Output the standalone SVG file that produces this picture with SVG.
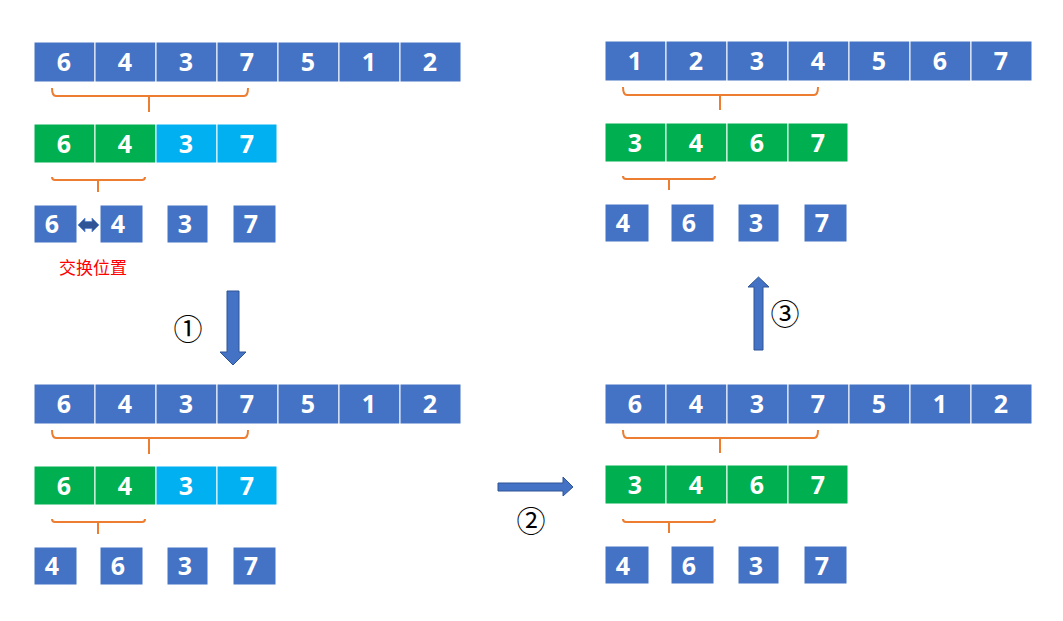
<svg xmlns="http://www.w3.org/2000/svg" width="1063" height="621" viewBox="0 0 1063 621">
<defs>
<style>
.b{fill:#4472C4;stroke:#fff;stroke-width:1}
.g{fill:#00B050;stroke:#fff;stroke-width:1}
.c{fill:#00B0F0;stroke:#fff;stroke-width:1}
.t{fill:#fff;font-family:"Open Sans","Noto Sans",sans-serif;font-weight:bold;font-size:25px;text-anchor:middle}
.br{fill:none;stroke:#ED7D31;stroke-width:2}
.ar{fill:#4472C4;stroke:#2F5597;stroke-width:1}
.cn{font-family:"Noto Sans CJK SC","DejaVu Sans",sans-serif;font-size:29px;text-anchor:middle;fill:#000}
</style>
<g id="row7">
<rect class="b" x="0" y="0" width="61" height="40"/>
<rect class="b" x="61" y="0" width="61" height="40"/>
<rect class="b" x="122" y="0" width="61" height="40"/>
<rect class="b" x="183" y="0" width="61" height="40"/>
<rect class="b" x="244" y="0" width="61" height="40"/>
<rect class="b" x="305" y="0" width="61" height="40"/>
<rect class="b" x="366" y="0" width="61" height="40"/>
</g>
</defs>

<!-- top-left -->
<g id="tl-row1">
<use href="#row7" x="34" y="42"/>
<text class="t" x="64" y="71">6</text><text class="t" x="125" y="71">4</text><text class="t" x="186" y="71">3</text><text class="t" x="247" y="71">7</text><text class="t" x="308" y="71">5</text><text class="t" x="369" y="71">1</text><text class="t" x="430" y="71">2</text>
</g>
<g id="tl-br1"><path class="br" d="M52,88 Q52,96 56,96 L244,96 Q248,96 248,88 M149,96 L149,112"/></g>
<g id="tl-row2">
<rect class="g" x="34" y="124" width="61" height="39"/><rect class="g" x="95" y="124" width="61" height="39"/>
<rect class="c" x="156" y="124" width="61" height="39"/><rect class="c" x="217" y="124" width="60" height="39"/>
<text class="t" x="64" y="153">6</text><text class="t" x="125" y="153">4</text><text class="t" x="186" y="153">3</text><text class="t" x="247" y="153">7</text>
</g>
<g id="tl-br2"><path class="br" d="M52,177 Q52,180 55,180 L142,180 Q145,180 145,177 M98,180 L98,192"/></g>
<g id="tl-row3">
<rect class="b" x="34" y="205" width="43" height="38"/><rect class="b" x="100" y="205" width="43" height="38"/>
<rect class="b" x="167" y="205" width="41" height="38"/><rect class="b" x="233" y="205" width="43" height="38"/>
<text class="t" x="52" y="233">6</text><text class="t" x="118" y="233">4</text><text class="t" x="185" y="233">3</text><text class="t" x="251" y="233">7</text>
</g>
<g id="swap"><path d="M78,225 L85,218 L85,221.5 L92,221.5 L92,218 L99,225 L92,232 L92,228.5 L85,228.5 L85,232 Z" fill="#2F5597" stroke="#5B8AD0" stroke-width="0.8"/></g>
<g id="swap-label"><text x="59" y="274" font-family="'Noto Sans CJK SC',sans-serif" font-size="17" fill="#FF0000">交换位置</text></g>

<!-- bottom-left -->
<g id="bl-row1">
<use href="#row7" x="34" y="384"/>
<text class="t" x="64" y="413">6</text><text class="t" x="125" y="413">4</text><text class="t" x="186" y="413">3</text><text class="t" x="247" y="413">7</text><text class="t" x="308" y="413">5</text><text class="t" x="369" y="413">1</text><text class="t" x="430" y="413">2</text>
</g>
<g id="bl-br1"><path class="br" d="M52,430 Q52,438 56,438 L244,438 Q248,438 248,430 M149,438 L149,454"/></g>
<g id="bl-row2">
<rect class="g" x="34" y="466" width="61" height="39"/><rect class="g" x="95" y="466" width="61" height="39"/>
<rect class="c" x="156" y="466" width="61" height="39"/><rect class="c" x="217" y="466" width="60" height="39"/>
<text class="t" x="64" y="495">6</text><text class="t" x="125" y="495">4</text><text class="t" x="186" y="495">3</text><text class="t" x="247" y="495">7</text>
</g>
<g id="bl-br2"><path class="br" d="M52,519 Q52,522 55,522 L142,522 Q145,522 145,519 M98,522 L98,534"/></g>
<g id="bl-row3">
<rect class="b" x="34" y="547" width="43" height="38"/><rect class="b" x="100" y="547" width="43" height="38"/>
<rect class="b" x="167" y="547" width="41" height="38"/><rect class="b" x="233" y="547" width="43" height="38"/>
<text class="t" x="52" y="575">4</text><text class="t" x="118" y="575">6</text><text class="t" x="185" y="575">3</text><text class="t" x="251" y="575">7</text>
</g>

<!-- top-right -->
<g id="tr-row1">
<use href="#row7" x="605" y="41"/>
<text class="t" x="635" y="70">1</text><text class="t" x="696" y="70">2</text><text class="t" x="757" y="70">3</text><text class="t" x="818" y="70">4</text><text class="t" x="879" y="70">5</text><text class="t" x="940" y="70">6</text><text class="t" x="1001" y="70">7</text>
</g>
<g id="tr-br1"><path class="br" d="M623,87 Q623,95 627,95 L814,95 Q818,95 818,87 M720,95 L720,110"/></g>
<g id="tr-row2">
<rect class="g" x="605" y="123" width="61" height="39"/><rect class="g" x="666" y="123" width="61" height="39"/>
<rect class="g" x="727" y="123" width="61" height="39"/><rect class="g" x="788" y="123" width="60" height="39"/>
<text class="t" x="635" y="152">3</text><text class="t" x="696" y="152">4</text><text class="t" x="757" y="152">6</text><text class="t" x="818" y="152">7</text>
</g>
<g id="tr-br2"><path class="br" d="M623,176 Q623,179 626,179 L712,179 Q715,179 715,176 M669,179 L669,190"/></g>
<g id="tr-row3">
<rect class="b" x="605" y="204" width="44" height="38"/><rect class="b" x="671" y="204" width="43" height="38"/>
<rect class="b" x="738" y="204" width="41" height="38"/><rect class="b" x="804" y="204" width="43" height="38"/>
<text class="t" x="623" y="232">4</text><text class="t" x="689" y="232">6</text><text class="t" x="756" y="232">3</text><text class="t" x="822" y="232">7</text>
</g>

<!-- bottom-right -->
<g id="br-row1">
<use href="#row7" x="605" y="384"/>
<text class="t" x="635" y="413">6</text><text class="t" x="696" y="413">4</text><text class="t" x="757" y="413">3</text><text class="t" x="818" y="413">7</text><text class="t" x="879" y="413">5</text><text class="t" x="940" y="413">1</text><text class="t" x="1001" y="413">2</text>
</g>
<g id="br-br1"><path class="br" d="M623,430 Q623,438 627,438 L814,438 Q818,438 818,430 M720,438 L720,453"/></g>
<g id="br-row2">
<rect class="g" x="605" y="465" width="61" height="39"/><rect class="g" x="666" y="465" width="61" height="39"/>
<rect class="g" x="727" y="465" width="61" height="39"/><rect class="g" x="788" y="465" width="60" height="39"/>
<text class="t" x="635" y="494">3</text><text class="t" x="696" y="494">4</text><text class="t" x="757" y="494">6</text><text class="t" x="818" y="494">7</text>
</g>
<g id="br-br2"><path class="br" d="M623,519 Q623,522 626,522 L712,522 Q715,522 715,519 M669,522 L669,533"/></g>
<g id="br-row3">
<rect class="b" x="605" y="546" width="44" height="38"/><rect class="b" x="671" y="546" width="43" height="38"/>
<rect class="b" x="738" y="546" width="41" height="38"/><rect class="b" x="804" y="546" width="43" height="38"/>
<text class="t" x="623" y="575">4</text><text class="t" x="689" y="575">6</text><text class="t" x="756" y="575">3</text><text class="t" x="822" y="575">7</text>
</g>

<!-- step arrows -->
<g id="connectors">
<path class="ar" d="M227,291 L239,291 L239,352 L246,352 L233,365 L220,352 L227,352 Z"/>
<path class="ar" d="M498,483 L563,483 L563,477 L573,487 L563,496 L563,491 L498,491 Z"/>
<path class="ar" d="M754,350 L754,287 L748,287 L758.5,277 L769,287 L763,287 L763,350 Z"/>
</g>
<g id="labels">
<text class="cn" x="188" y="340">①</text>
<text class="cn" x="531" y="532">②</text>
<text class="cn" x="785" y="325">③</text>
</g>
</svg>
